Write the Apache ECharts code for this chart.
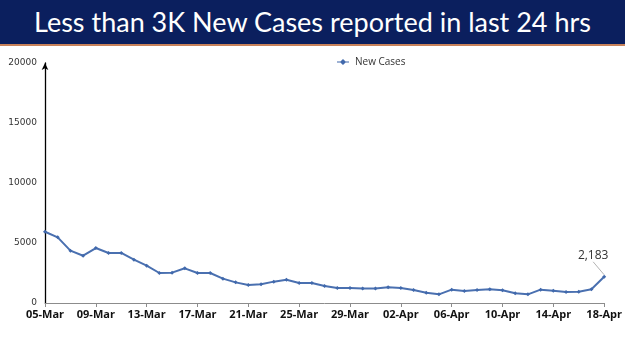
<!DOCTYPE html>
<html lang="en" style="height: 100%">
<head>
    <meta charset="UTF-8">
</head>
<body style="height: 100%; margin: 0; background: #fff">
  <div id="banner" style="position:absolute;left:0;top:0;width:625px;height:44px;background:#0b1f5e;border-bottom:2px solid #c8825a;color:#fff;font-family:Lato,'Open Sans',sans-serif;font-size:27px;line-height:44px;text-align:center;">Less than 3K New Cases reported in last 24 hrs</div>
  <div id="container" style="position:absolute;left:0;top:46px;width:625px;height:305px"></div>

  <script type="text/javascript" src="https://fastly.jsdelivr.net/npm/echarts@6/dist/echarts.min.js"></script>
  <script type="text/javascript">
    var dom = document.getElementById('container');
    var myChart = echarts.init(dom, null, { renderer: 'canvas' });

    var dates = [
      '05-Mar','06-Mar','07-Mar','08-Mar','09-Mar','10-Mar','11-Mar','12-Mar','13-Mar','14-Mar',
      '15-Mar','16-Mar','17-Mar','18-Mar','19-Mar','20-Mar','21-Mar','22-Mar','23-Mar','24-Mar',
      '25-Mar','26-Mar','27-Mar','28-Mar','29-Mar','30-Mar','31-Mar','01-Apr','02-Apr','03-Apr',
      '04-Apr','05-Apr','06-Apr','07-Apr','08-Apr','09-Apr','10-Apr','11-Apr','12-Apr','13-Apr',
      '14-Apr','15-Apr','16-Apr','17-Apr','18-Apr'
    ];
    var newCases = [
      5940, 5470, 4360, 3940, 4580, 4170, 4170, 3610, 3110, 2500,
      2530, 2890, 2500, 2500, 2030, 1720, 1500, 1560, 1780, 1940,
      1670, 1670, 1420, 1250, 1250, 1200, 1200, 1310, 1250, 1080,
      860, 720, 1110, 1000, 1080, 1140, 1060, 810, 720, 1110,
      1030, 920, 940, 1140, 2183
    ];
    var yTicks = [0, 5000, 10000, 15000, 20000];

    var lastIdx = newCases.length - 1;
    var seriesData = newCases.map(function (v, i) {
      if (i === lastIdx) {
        return {
          value: v,
          label: {
            show: true,
            position: 'top',
            formatter: function (p) { return p.value.toLocaleString('en-US'); },
            color: '#333',
            fontSize: 12,
            fontFamily: 'Open Sans'
          },
          labelLine: { show: true, lineStyle: { color: '#a0a0a0', width: 0.8 } }
        };
      }
      return v;
    });

    var option = {
      animation: false,
      legend: {
        top: 6,
        left: 332,
        itemWidth: 14,
        itemHeight: 6,
        icon: 'path://M0,5L4,5L7,2L10,5L14,5L14,6L10,6L7,9L4,6L0,6Z',
        textStyle: { fontSize: 10, color: '#333', fontFamily: 'Open Sans' },
        data: ['New Cases']
      },
      grid: { left: 45, right: 20, top: 17, bottom: 48 },
      xAxis: {
        type: 'category',
        data: dates,
        boundaryGap: false,
        axisLine: { lineStyle: { color: '#8c8c8c' } },
        axisTick: { show: true, interval: 3, length: 4, lineStyle: { color: '#8c8c8c' } },
        axisLabel: {
          interval: 3,
          color: '#111',
          fontWeight: 'bold',
          fontSize: 11,
          fontFamily: 'Open Sans',
          margin: 6
        }
      },
      yAxis: {
        type: 'value',
        min: yTicks[0],
        max: yTicks[yTicks.length - 1],
        interval: 5000,
        splitLine: { show: false },
        axisLine: { show: true, symbol: ['none', 'arrow'], symbolSize: [5, 7], lineStyle: { color: '#000', width: 1.3 } },
        axisTick: { show: false },
        axisLabel: {
          color: '#333', fontSize: 9, fontFamily: 'DejaVu Sans', margin: 8,
          formatter: function (v) { return String(v); }
        }
      },
      series: [{
        name: 'New Cases',
        type: 'line',
        data: seriesData,
        symbol: 'diamond',
        symbolSize: 4,
        itemStyle: { color: '#4169ac' },
        lineStyle: { color: '#4a70b0', width: 2 },
        labelLayout: function (params) {
          if (params.dataIndex !== lastIdx) return {};
          return { dx: -11, dy: -8 };
        }
      }]
    };

    myChart.setOption(option);
    window.addEventListener('resize', myChart.resize);
  </script>
</body>
</html>
